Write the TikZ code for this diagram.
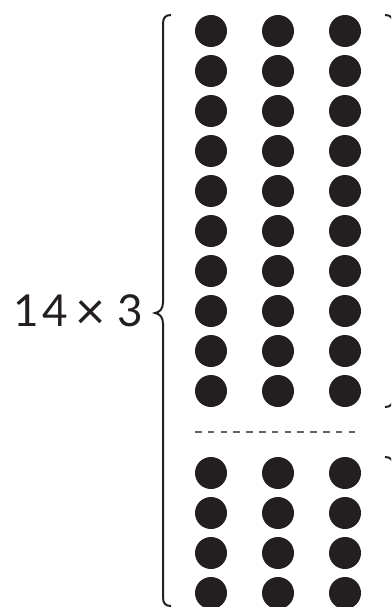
\documentclass[tikz,border=0pt]{standalone}
\usepackage{fontspec}
\setmainfont{Lato}
\usepackage{xcolor}
\usetikzlibrary{positioning,calc}
\definecolor{ink}{HTML}{231F20}

\begin{document}
\begin{tikzpicture}[
    x=1pt, y=-1pt,
    dot/.style={circle, fill=ink, inner sep=0pt, minimum size=32pt},
    brc/.style={draw=ink, line width=2pt},
    sep/.style={draw=ink!70, line width=1.3pt, dash pattern=on 6.5pt off 6.3pt},
    lbl/.style={font=\fontsize{44}{50}\selectfont, text=ink, inner sep=0pt}
]
    \useasboundingbox (0,0) rectangle (391,607);
    \clip (0,0) rectangle (391,607);

    % upper ten rows
    \foreach \r in {1,...,10}
        \foreach \c in {1,2,3}
            \node [dot] (d-\c-\r) at ({211+67*(\c-1)}, {31+40*(\r-1)}) {};
    % lower four rows
    \foreach \r in {11,...,14}
        \node [dot] (d-1-\r) at (211, {473+40*(\r-11)}) {}
            node [dot] (d-2-\r) at (278, {473+40*(\r-11)}) {}
            node [dot] (d-3-\r) at (345, {473+40*(\r-11)}) {};

    \draw [sep] (195,432) -- (361,432);

    % braces
    \draw [brc] (171,15) .. controls (165,15) and (163,18) .. (163,24) -- (163,302)
        .. controls (163,309) and (160,312) .. (155,313)
        .. controls (160,314) and (163,317) .. (163,324) -- (163,597)
        .. controls (163,603) and (165,606) .. (171,606);
    \draw [brc] (385,15) .. controls (391,15) and (393,18) .. (393,24) -- (393,400);
    \draw [brc] (385,407) .. controls (391,407) and (393,404) .. (393,398);
    \draw [brc] (385,457) .. controls (391,457) and (393,460) .. (393,466) -- (393,600);

    \node [lbl] (prod) at (78,312)
        {1\kern4pt 4\kern7pt\raisebox{-3pt}{\fontsize{52}{52}\selectfont ×}\kern12pt 3};
\end{tikzpicture}
\end{document}
